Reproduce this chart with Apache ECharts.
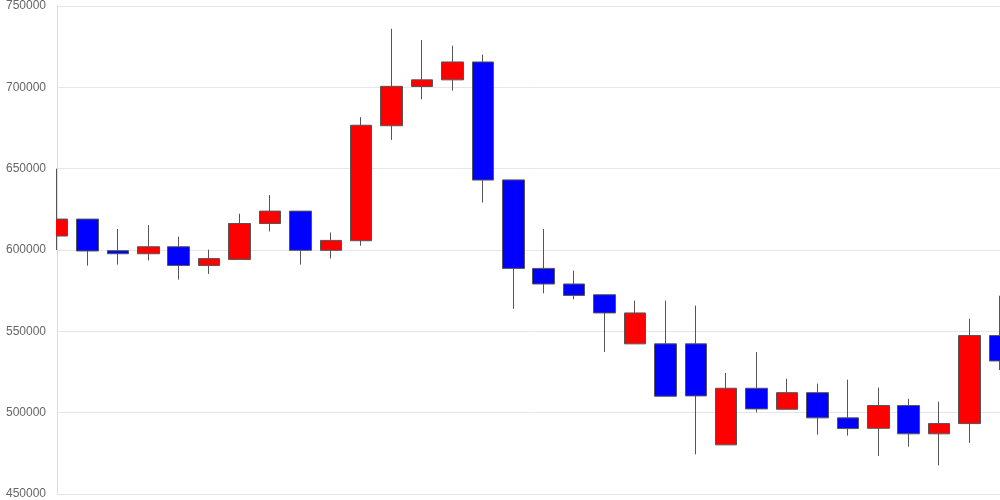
<!DOCTYPE html>
<html>
<head>
<meta charset="utf-8">
<script src="https://cdn.jsdelivr.net/npm/echarts@6/dist/echarts.min.js"></script>
<style>html,body{margin:0;padding:0;background:#fff;}#c{width:1000px;height:500px;}</style>
</head>
<body>
<div id="c"></div>
<script>
const categories = ['1','2','3','4','5','6','7','8','9','10','11','12','13','14','15','16','17','18','19','20','21','22','23','24','25','26','27','28','29','30','31','32'];
const opens  = [608600,619000,599600,597700,602000,590500,594200,616300,623900,599800,605700,676400,700500,704600,715600,643100,588700,579100,572500,542300,542300,542300,480200,515000,502100,512300,496800,490400,504400,487000,493300,547400];
const closes = [619000,599400,597700,602000,590500,594700,616300,623900,599800,605900,676700,700600,704600,715600,643000,588700,579100,572100,561300,561300,510100,510300,515000,502300,512300,496800,490200,504400,487000,493300,547400,531800];
const lows   = [600000,590400,591000,593600,581800,585300,594200,611400,591000,594800,602600,667700,692700,698000,629200,563800,573400,569700,537300,542300,510100,474400,480200,500200,502100,486500,485900,473400,479100,467600,481400,526200];
const highs  = [650000,619000,612900,615300,608200,600200,622300,633800,623900,610800,681700,736000,729100,725600,720100,643100,612900,587300,572500,568900,568900,565800,524400,537300,520900,517900,520300,515400,508500,506800,557800,571900];
const yTicks = {min:450000, max:750000, interval:50000};

const ohlc = categories.map((c,i)=>[opens[i],closes[i],lows[i],highs[i]]);
const chart = echarts.init(document.getElementById('c'));
const yBase = {type:'value',min:yTicks.min,max:yTicks.max,interval:yTicks.interval};
chart.setOption({
  animation:false,
  grid:{left:57,right:0,top:6,bottom:6},
  xAxis:{type:'category',data:categories,boundaryGap:false,
    axisLabel:{show:false},axisTick:{show:false},
    axisLine:{show:false},splitLine:{show:false}},
  yAxis:[
    Object.assign({}, yBase, {z:0,
      axisLine:{show:true,lineStyle:{color:'#ddd'}},axisTick:{show:false},
      axisLabel:{show:false},
      splitLine:{lineStyle:{color:'#e6e6e6'}}}),
    Object.assign({}, yBase, {z:10,position:'left',
      axisLine:{show:false},axisTick:{show:false},splitLine:{show:false},
      axisLabel:{color:'#666',fontSize:12,fontFamily:'Liberation Sans, Arial, sans-serif',margin:11,
        formatter:v=>String(v)}})
  ],
  graphic:[{type:'rect',z:5,silent:true,shape:{x:0,y:0,width:56,height:500},style:{fill:'#fff'}}],
  series:[{type:'candlestick',data:ohlc,barWidth:22,yAxisIndex:0,
    itemStyle:{color:'#ff0000',color0:'#0000ff',borderColor:'#555',borderColor0:'#555',borderWidth:1}}]
});
</script>
</body>
</html>
